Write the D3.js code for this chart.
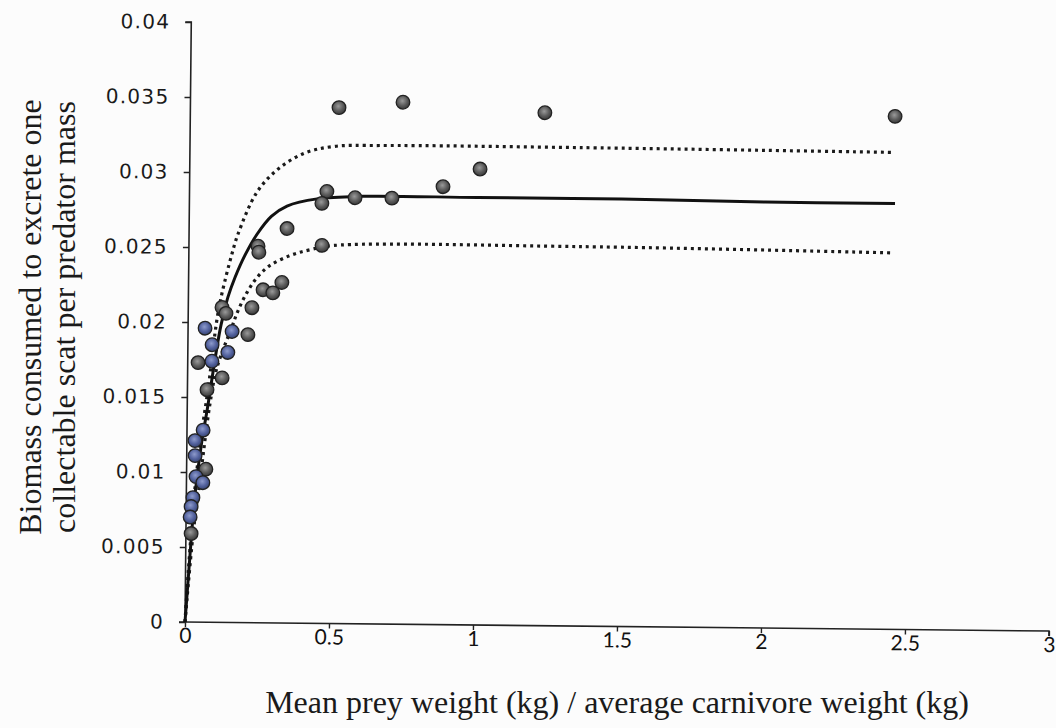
<!DOCTYPE html>
<html>
<head>
<meta charset="utf-8">
<script src="https://cdn.jsdelivr.net/npm/d3@7"></script>
<style>
  body { margin: 0; background: #fcfcfc; }
  svg { display: block; }
</style>
</head>
<body>
<div id="chart"></div>
<script>

// scatter points
let ptX = [0.516, 0.738, 1.231, 2.447, 1.008, 0.880, 0.477, 0.460, 0.575, 0.703,
           0.340, 0.462, 0.240, 0.243, 0.324, 0.259, 0.293, 0.221, 0.208, 0.117,
           0.131, 0.059, 0.153, 0.084, 0.139, 0.036, 0.084, 0.120, 0.068, 0.056,
           0.028, 0.029, 0.067, 0.033, 0.057, 0.023, 0.017, 0.014, 0.018];
let ptY = [0.0344, 0.0348, 0.0342, 0.0342, 0.0304, 0.0292, 0.0288, 0.0280, 0.0284, 0.0284,
           0.0263, 0.0252, 0.0251, 0.0247, 0.0227, 0.0222, 0.0220, 0.0210, 0.0192, 0.0210,
           0.0206, 0.0196, 0.0194, 0.0185, 0.0180, 0.0173, 0.0174, 0.0163, 0.0155, 0.0128,
           0.0121, 0.0111, 0.0102, 0.0097, 0.0093, 0.0083, 0.0077, 0.0070, 0.0059];
// g = grey marker, b = bluish marker
let ptKind = ["g","g","g","g","g","g","g","g","g","g",
              "g","g","g","g","g","g","g","g","g","g",
              "g","b","b","b","b","g","b","g","g","b",
              "b","b","g","b","b","b","b","b","g"];

// fitted curve (solid) and the two bounds (dotted)
let fitX = [0, 0.005, 0.015, 0.03, 0.05, 0.072, 0.092, 0.111, 0.121, 0.1375, 0.161, 0.195, 0.236, 0.285, 0.339, 0.443, 0.6, 1.0, 1.5, 2.0, 2.45];
let fitY = [0, 0.0015, 0.0045, 0.0085, 0.0118, 0.0145, 0.0172, 0.0195, 0.0204, 0.0217, 0.0230, 0.0245, 0.0259, 0.0271, 0.0278, 0.0283, 0.0285, 0.0285, 0.0285, 0.0284, 0.0284];

let upX = [0, 0.01, 0.03, 0.05, 0.072, 0.1, 0.116, 0.15, 0.17, 0.234, 0.303, 0.393, 0.497, 0.66, 1.354, 2.44];
let upY = [0, 0.0035, 0.0090, 0.0125, 0.0156, 0.0202, 0.0219, 0.0246, 0.0259, 0.0287, 0.0302, 0.0313, 0.0318, 0.0319, 0.0319, 0.0318];

let lowX = [0, 0.025, 0.05, 0.079, 0.102, 0.152, 0.173, 0.203, 0.237, 0.28, 0.351, 0.42, 0.5, 1.358, 2.44];
let lowY = [0, 0.0059, 0.0100, 0.0146, 0.0170, 0.0197, 0.0208, 0.0220, 0.0230, 0.0238, 0.0245, 0.0249, 0.0252, 0.0253, 0.0251];

let xTicks = [0, 0.5, 1, 1.5, 2, 2.5, 3];
let yTicks = [0, 0.005, 0.01, 0.015, 0.02, 0.025, 0.03, 0.035, 0.04];

let width = 1056, height = 728;
let origin = {x: 185, y: 622};
let plotW = 864, plotH = 600;
let tilt = 0.6; // the scan is turned a little

let svg = d3.select("#chart").append("svg")
    .attr("width", width)
    .attr("height", height);

svg.append("rect").attr("width", width).attr("height", height).attr("fill", "#fcfcfc");

let defs = svg.append("defs");
let grads = {g: ["#9a9a9a", "#5a5a5a", "#3a3a3a"], b: ["#8d9acb", "#51609c", "#37446f"]};
Object.keys(grads).forEach(function(k){
    let gr = defs.append("radialGradient").attr("id", "m_" + k)
        .attr("cx", "45%").attr("cy", "40%").attr("r", "60%");
    gr.append("stop").attr("offset", "0%").attr("stop-color", grads[k][0]);
    gr.append("stop").attr("offset", "60%").attr("stop-color", grads[k][1]);
    gr.append("stop").attr("offset", "100%").attr("stop-color", grads[k][2]);
});

let x = d3.scaleLinear().domain([0, 3]).range([0, plotW]);
let y = d3.scaleLinear().domain([0, 0.04]).range([0, -plotH]);

let g = svg.append("g")
    .attr("transform", "translate(" + origin.x + "," + origin.y + ") rotate(" + tilt + ")");

// axes
let yAxis = d3.axisLeft(y).tickValues(yTicks).tickSize(6).tickPadding(15)
    .tickFormat(function(d){ return d === 0 ? "0" : String(+d.toFixed(3)); });
let ya = g.append("g").call(yAxis);
ya.select(".domain").attr("stroke", "#222").attr("stroke-width", 1.6).attr("d", "M-6,0H0V" + (-plotH) + "H-6");
ya.selectAll(".tick line").attr("stroke", "#222").attr("stroke-width", 1.4);
ya.selectAll(".tick text")
    .attr("fill", "#1a1a1a")
    .style("font-family", "'DejaVu Sans', Verdana, sans-serif")
    .style("font-size", "20px")
    .style("letter-spacing", "1.3px");

let xAxis = d3.axisBottom(x).tickValues(xTicks).tickSize(5).tickPadding(1)
    .tickFormat(function(d){ return String(d); });
let xa = g.append("g").call(xAxis);
xa.select(".domain").attr("stroke", "#222").attr("stroke-width", 1.6).attr("d", "M0,0H" + plotW + "V5");
xa.selectAll(".tick line").attr("stroke", "#222").attr("stroke-width", 1.4);
xa.selectAll(".tick text")
    .attr("fill", "#111")
    .style("font-family", "Lato, 'Open Sans', sans-serif")
    .style("font-size", "21px");

// curves
let line = d3.line()
    .x(function(d){ return x(d[0]); })
    .y(function(d){ return y(d[1]); })
    .curve(d3.curveCatmullRom.alpha(0.5));

function pairs(xs, ys){ return xs.map(function(v, i){ return [v, ys[i]]; }); }

g.append("path").datum(pairs(upX, upY))
    .attr("d", line).attr("fill", "none")
    .attr("stroke", "#1a1a1a").attr("stroke-width", 3.2)
    .attr("stroke-dasharray", "3,4");
g.append("path").datum(pairs(lowX, lowY))
    .attr("d", line).attr("fill", "none")
    .attr("stroke", "#1a1a1a").attr("stroke-width", 3.2)
    .attr("stroke-dasharray", "3,4");
g.append("path").datum(pairs(fitX, fitY))
    .attr("d", line).attr("fill", "none")
    .attr("stroke", "#111").attr("stroke-width", 3);

// points
g.selectAll("circle.pt")
    .data(d3.range(ptX.length))
    .enter().append("circle")
    .attr("class", "pt")
    .attr("cx", function(i){ return x(ptX[i]); })
    .attr("cy", function(i){ return y(ptY[i]); })
    .attr("r", 6.8)
    .attr("fill", function(i){ return "url(#m_" + ptKind[i] + ")"; })
    .attr("stroke", "#222")
    .attr("stroke-width", 1.3);

// titles
svg.append("text")
    .attr("x", 617).attr("y", 713)
    .attr("text-anchor", "middle")
    .style("font-family", "'Liberation Serif', 'Times New Roman', serif")
    .style("font-size", "32px")
    .attr("fill", "#1a1a1a")
    .text("Mean prey weight (kg) / average carnivore weight (kg)");

let yTitle = svg.append("text")
    .attr("transform", "translate(0,317) rotate(-90)")
    .attr("text-anchor", "middle")
    .style("font-family", "'Liberation Serif', 'Times New Roman', serif")
    .style("font-size", "32px")
    .attr("fill", "#1a1a1a");
yTitle.append("tspan").attr("x", 0).attr("y", 41).text("Biomass consumed to excrete one");
yTitle.append("tspan").attr("x", 0).attr("y", 75).text("collectable scat per predator mass");

</script>
</body>
</html>
